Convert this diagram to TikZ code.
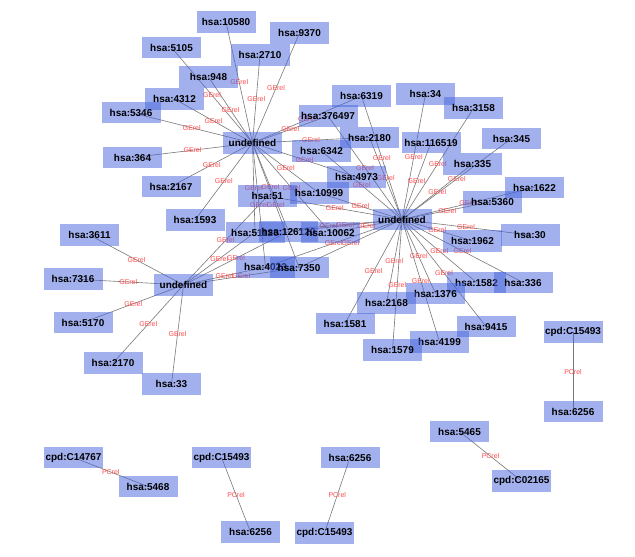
\documentclass[tikz,border=0pt]{standalone}
\usepackage{fontspec}
\setmainfont{Liberation Sans}
\pgfdeclarelayer{bg}
\pgfdeclarelayer{edges}
\pgfsetlayers{bg,edges,main}
\definecolor{nodeblue}{RGB}{70,100,222}
\definecolor{labred}{RGB}{255,75,75}
\definecolor{edgegray}{RGB}{120,120,120}
\tikzset{
  gnode/.style={rectangle, fill=nodeblue, fill opacity=0.5, text opacity=1,
    minimum width=59bp, minimum height=21.7bp, inner sep=0pt,
    font=\fontsize{10}{10}\selectfont\bfseries, text=black},
  edge/.style={draw=edgegray, line width=0.6bp},
  lab/.style={midway, inner sep=0pt, font=\fontsize{7}{7}\selectfont, text=labred}
}
\begin{document}
\begin{tikzpicture}[x=1bp,y=-1bp]
\begin{pgfonlayer}{bg}
\fill[white] (0,0) rectangle (635,557);
\end{pgfonlayer}
\path[use as bounding box] (0,0) rectangle (635,557);
% nodes
\node[gnode] (n10580) at (226,22) {hsa:10580};
\node[gnode] (n9370) at (299.5,33) {hsa:9370};
\node[gnode] (n5105) at (171.5,47.5) {hsa:5105};
\node[gnode] (n2710) at (260,55) {hsa:2710};
\node[gnode] (n948) at (208.5,77) {hsa:948};
\node[gnode] (n4312) at (174.5,99) {hsa:4312};
\node[gnode] (n5346) at (131,112.5) {hsa:5346};
\node[gnode] (U1) at (252.5,143) {undefined};
\node[gnode] (n364) at (132.5,157.5) {hsa:364};
\node[gnode] (n2167) at (171,186.5) {hsa:2167};
\node[gnode] (n1593) at (195,220) {hsa:1593};
\node[gnode] (n6319) at (361.5,96) {hsa:6319};
\node[gnode] (n34) at (425.5,94) {hsa:34};
\node[gnode] (n3158) at (473.5,108.3) {hsa:3158};
\node[gnode] (n376497) at (328,116) {hsa:376497};
\node[gnode] (n2180) at (369.5,137.5) {hsa:2180};
\node[gnode] (n6342) at (321.5,151) {hsa:6342};
\node[gnode] (n116519) at (431,142.5) {hsa:116519};
\node[gnode] (n345) at (511.5,138.5) {hsa:345};
\node[gnode] (n335) at (472.5,164) {hsa:335};
\node[gnode] (n4973) at (356.5,177) {hsa:4973};
\node[gnode] (n1622) at (534.5,187.5) {hsa:1622};
\node[gnode] (n5360) at (492.5,201.7) {hsa:5360};
\node[gnode] (n51) at (267.5,196) {hsa:51};
\node[gnode] (n10999) at (319,193) {hsa:10999};
\node[gnode] (U2) at (402,219.5) {undefined};
\node[gnode] (n30) at (530,235) {hsa:30};
\node[gnode] (n1962) at (472.5,241) {hsa:1962};
\node[gnode] (n51125) at (255,232.5) {hsa:51125};
\node[gnode] (n126120) at (288.5,231.5) {hsa:126120};
\node[gnode] (n10062) at (330.5,232.5) {hsa:10062};
\node[gnode] (n4023) at (265.5,267) {hsa:4023};
\node[gnode] (n7350) at (299,267.5) {hsa:7350};
\node[gnode] (n3611) at (89.5,235) {hsa:3611};
\node[gnode] (n7316) at (73,279) {hsa:7316};
\node[gnode] (U3) at (183.5,285) {undefined};
\node[gnode] (n5170) at (83,322.5) {hsa:5170};
\node[gnode] (n2170) at (113,363) {hsa:2170};
\node[gnode] (n33) at (171.5,384) {hsa:33};
\node[gnode] (n1582) at (476.5,282.5) {hsa:1582};
\node[gnode] (n336) at (523,282.5) {hsa:336};
\node[gnode] (n1376) at (435.5,293.5) {hsa:1376};
\node[gnode] (n2168) at (386.5,303) {hsa:2168};
\node[gnode] (n1581) at (345,323.5) {hsa:1581};
\node[gnode] (n9415) at (486,326.5) {hsa:9415};
\node[gnode] (n4199) at (439.5,342) {hsa:4199};
\node[gnode] (n1579) at (392.5,350) {hsa:1579};
\node[gnode] (cR) at (573,332) {cpd:C15493};
\node[gnode] (hR) at (573,411.5) {hsa:6256};
\node[gnode] (n5465) at (459.5,431.5) {hsa:5465};
\node[gnode] (c02165) at (521.5,481) {cpd:C02165};
\node[gnode] (c14767) at (73.5,457.5) {cpd:C14767};
\node[gnode] (n5468) at (148,486.5) {hsa:5468};
\node[gnode] (cM) at (221.5,457.5) {cpd:C15493};
\node[gnode] (hM) at (250.5,532) {hsa:6256};
\node[gnode] (h3) at (350,457.5) {hsa:6256};
\node[gnode] (c3) at (324.5,533) {cpd:C15493};
% edges
\begin{pgfonlayer}{edges}
\foreach \b in {n10580,n9370,n5105,n2710,n948,n4312,n5346,n364,n2167,n1593,
  n6319,n376497,n2180,n4973,n10999,n51125,n126120,n10062,n4023,n7350}
  \draw[edge] (U1.center) -- node[lab]{GErel} (\b.center);
\foreach \b in {n6319,n34,n3158,n116519,n345,n335,n1622,n5360,n30,n1962,
  n1582,n336,n1376,n2168,n1581,n9415,n4199,n1579,n376497,n2180,n6342,
  n10999,n51,n51125,n126120,n10062,n4023,n7350}
  \draw[edge] (U2.center) -- node[lab]{GErel} (\b.center);
\foreach \b in {n3611,n7316,n5170,n2170,n33,n51,n51125,n126120,n4023,n7350}
  \draw[edge] (U3.center) -- node[lab]{GErel} (\b.center);
\draw[edge] (c14767.center) -- node[lab]{PCrel} (n5468.center);
\draw[edge] (cM.center) -- node[lab]{PCrel} (hM.center);
\draw[edge] (h3.center) -- node[lab]{PCrel} (c3.center);
\draw[edge] (cR.center) -- node[lab]{PCrel} (hR.center);
\draw[edge] (n5465.center) -- node[lab]{PCrel} (c02165.center);
\end{pgfonlayer}
\end{tikzpicture}
\end{document}
